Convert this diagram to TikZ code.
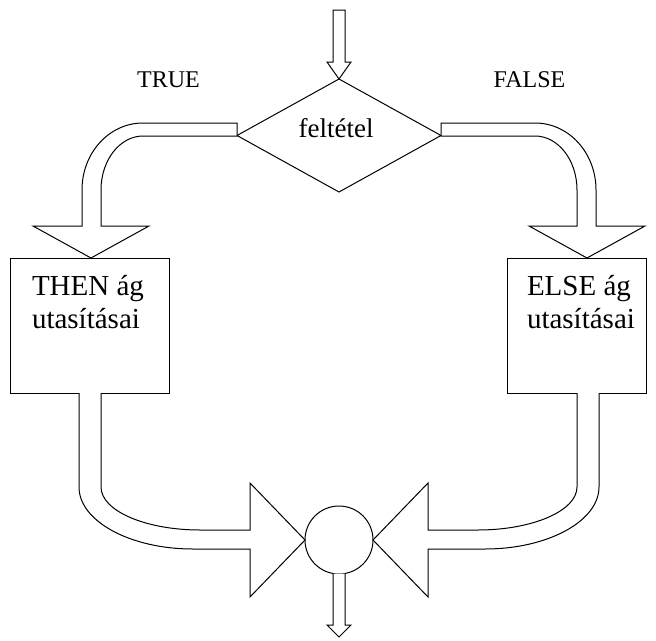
\documentclass[tikz,border=0pt]{standalone}
\usepackage{fontspec}
\setmainfont{Liberation Serif}
\usetikzlibrary{shapes.geometric,calc}

\begin{document}
\begin{tikzpicture}[x=1pt,y=-1pt,
  line width=1pt, line join=miter,
  every node/.style={outer sep=0pt, inner sep=0pt},
  blockarrow/.style={draw=black, fill=white, line width=1pt},
  shapebox/.style={draw=black, line width=1pt},
  labeltxt/.style={font=\fontsize{24}{28}\selectfont},
  condfont/.style={font=\fontsize{27}{30}\selectfont},
  boxtxt/.style={font=\fontsize{29}{33}\selectfont, align=left, anchor=north west}]
\useasboundingbox (0,0) rectangle (656,640);

% --- shapes ---
\node[shapebox, diamond, minimum width=204pt, minimum height=113pt] (cond) at (339,135.5) {};
\node[shapebox, rectangle, minimum width=159pt, minimum height=135pt] (then) at (89.5,325.5) {};
\node[shapebox, rectangle, minimum width=139pt, minimum height=135pt] (else) at (576.5,325.5) {};
\node[shapebox, circle, minimum size=68pt] (join) at (339,540) {};

% --- texts ---
\node[condfont, anchor=base] (condtxt) at (336,137) {feltétel};
\node[labeltxt, anchor=base] (ttrue) at (168.5,87) {TRUE};
\node[labeltxt, anchor=base] (tfalse) at (529.5,87) {FALSE};
\node[boxtxt] (thentxt) at (32,275.5) {THEN ág\\utasításai};
\node[boxtxt] (elsetxt) at (527,275.5) {ELSE ág\\utasításai};

% --- incoming arrow ---
\draw[blockarrow] ($(cond.north)+(-6,-69)$) -- ($(cond.north)+(-6,-17)$)
  -- ($(cond.north)+(-12,-17)$) -- (cond.north) -- ($(cond.north)+(12,-17)$)
  -- ($(cond.north)+(6,-17)$) -- ($(cond.north)+(6,-69)$) -- cycle;

% --- TRUE branch ---
\draw[blockarrow] ($(cond.west)+(0,-12.5)$) -- (143,123)
  .. controls (109,123) and (82,153) .. (82,190) -- (82,226) -- (33,226)
  -- ($(then.north)+(1.5,0)$) -- (149,226) -- (101,226) -- (101,190)
  .. controls (101,160) and (120,136) .. (143,136) -- ($(cond.west)+(0,0.5)$) -- cycle;

% --- FALSE branch ---
\draw[blockarrow] ($(cond.east)+(0,-12.5)$) -- (535,123)
  .. controls (569,123) and (596,153) .. (596,190) -- (596,226) -- (645,226)
  -- ($(else.north)+(10.5,0)$) -- (529,226) -- (577,226) -- (577,190)
  .. controls (577,160) and (558,136) .. (535,136) -- ($(cond.east)+(0,0.5)$) -- cycle;

% --- THEN branch into the junction ---
\draw[blockarrow] ($(then.south)+(-10.5,0)$) -- (79,487)
  .. controls (79,521) and (130,549) .. (193,549) -- (250,549) -- (250,597)
  -- (join.west) -- (250,483) -- (250,530) -- (200,530)
  .. controls (146,530) and (101,511) .. (101,487) -- ($(then.south)+(11.5,0)$);

% --- ELSE branch into the junction ---
\draw[blockarrow] ($(else.south)+(22.5,0)$) -- (599,487)
  .. controls (599,521) and (548,549) .. (485,549) -- (428,549) -- (428,597)
  -- (join.east) -- (428,483) -- (428,530) -- (478,530)
  .. controls (532,530) and (577,511) .. (577,487) -- ($(else.south)+(0.5,0)$);

% --- outgoing arrow ---
\draw[blockarrow] ($(join.south)+(-6,-0.5)$) -- ($(join.south)+(-6,51)$)
  -- ($(join.south)+(-12,51)$) -- ($(join.south)+(0,63)$) -- ($(join.south)+(12,51)$)
  -- ($(join.south)+(6,51)$) -- ($(join.south)+(6,-0.5)$);
\end{tikzpicture}
\end{document}
